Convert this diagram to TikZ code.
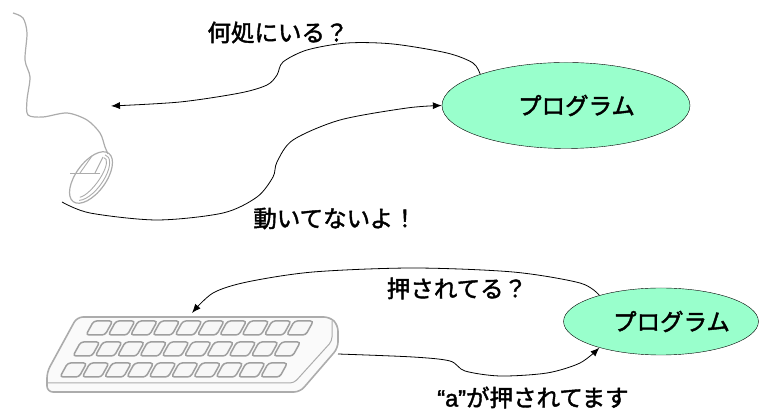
\documentclass[tikz,border=0pt]{standalone}
\usepackage{fontspec}
\setmainfont{Noto Sans CJK JP}[FakeBold=1.8]
\newfontfamily\latinfont{Liberation Sans}[FakeBold=1.8]
\usepackage{tikz}
\usetikzlibrary{
  arrows.meta,          % arrow tips
  shapes.geometric,     % ellipse nodes
}
\definecolor{progfill}{RGB}{153,255,204}
\newcommand{\progname}{\hspace*{21pt}プログラム}

\begin{document}
\begin{tikzpicture}[
  x=1pt, y=1pt,
  prog/.style={ellipse, draw, thin, fill=progfill, inner sep=0pt,
    minimum width=248pt, minimum height=86pt, font=\fontsize{23.5}{28}\selectfont},
  link/.style={-{Latex[length=9pt, width=7pt]}, line width=0.8pt},
  msg/.style={font=\fontsize{23.5}{28}\selectfont, inner sep=0pt},
  device/.style={draw=gray!65, line width=1.2pt},
  key/.style={draw=gray!75, fill=gray!6, line width=1.5pt, rounded corners=3pt},
]
  \useasboundingbox (0,0) rectangle (768,411);

  % Programs
  \node[prog] (progA) at (566,305.5) {\progname};
  \node[prog, minimum width=188pt, minimum height=67pt] (progB) at (661,89.5) {\progname};

  % Mouse and its cord
  \draw[device] plot[smooth] coordinates {(13,398) (23,393) (27,378) (25,351) (30,334)
    (27,311) (28,296) (43,294) (67,298) (87,291) (100,278) (105,264) (108,257)};
  \begin{scope}[shift={(91,233.5)}, rotate=53.7]
    \draw[device] (0,0) ellipse (30 and 15);
    \draw[device, line width=0.9pt] (-25.4,-4.1) arc[start angle=200, end angle=370, x radius=27, y radius=12];
    \draw[device, line width=0.9pt] (-22.6,-2.7) arc[start angle=200, end angle=370, x radius=24, y radius=8];
  \end{scope}
  \draw[device, line width=0.9pt] (70,238) -- (100,238);
  \draw[device, line width=0.9pt] (80,238) -- (92,255);
  \draw[device, line width=0.9pt] (95,238) -- (103,254);
  \coordinate (mouseIn) at (111,305);
  \coordinate (mouseOut) at (62,209);

  % Keyboard
  \draw[device, line width=1.6pt, rounded corners=6pt, fill=gray!4]
    (77,94) -- (330,94) -- (338,86) -- (338,63) -- (300,19) -- (47,19) -- (47,39) -- cycle;
  \draw[device, line width=1pt, rounded corners=4pt]
    (47,28) -- (294,28) -- (332,70) -- (332,90);
  \foreach \r in {0,1,2}
    \foreach \k in {0,...,9}
      \draw[key, shift={({86-13*\r+22.3*\k},{76-21*\r})}, xslant=0.55]
        (0,0) -- (19,0) -- (19,14) -- (0,14) -- cycle;
  \coordinate (kbTop) at (192,98);
  \coordinate (kbRight) at (338,57);

  % Messages
  \draw[link] plot[smooth] coordinates {(progA.160) (473,348) (447,358) (393,367) (347,368)
    (307,361) (283,349) (277,336) (267,326) (240,318) (180,309) (mouseIn)};
  \draw[link] plot[smooth] coordinates {(mouseOut) (90,198) (157,191) (223,198) (257,214)
    (273,234) (277,249) (293,271) (340,291) (407,303) (progA.west)};
  \draw[link] plot[smooth] coordinates {(progB.157) (580,128) (513,139) (413,143) (313,139)
    (247,129) (213,118) (kbTop)};
  \draw[link] plot[smooth] coordinates {(kbRight) (413,54) (450,50) (465,40) (500,35)
    (547,38) (580,48) (progB.203)};

  \node[msg] (whereQ) at (278,378.5) {何処にいる？};
  \node[msg] (stillA) at (335,192.5) {動いてないよ！};
  \node[msg] (pressQ) at (457,122.5) {押されてる？};
  \node[msg] (pressA) at (533,13.5) {{\latinfont “a”}が押されてます};
\end{tikzpicture}
\end{document}
